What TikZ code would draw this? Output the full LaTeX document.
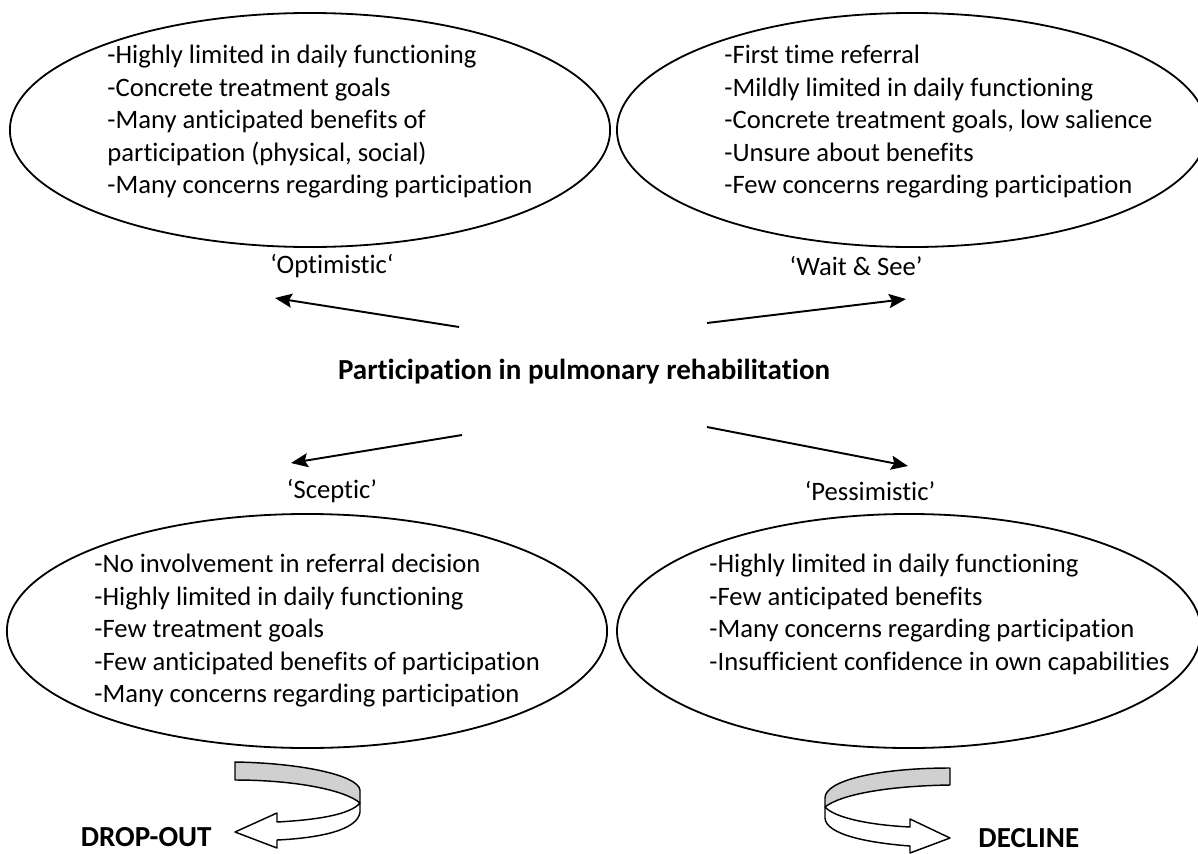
\documentclass[tikz,border=0pt]{standalone}
\usepackage{fontspec}
\setmainfont{Carlito}[Ligatures=CommonOff]
\usetikzlibrary{arrows.meta,positioning,shapes.geometric}
\definecolor{ribbongray}{RGB}{208,208,208}

\begin{document}
\begin{tikzpicture}[
  x=0.4132pt, y=-0.4132pt,
  bubble/.style={ellipse, draw, line width=0.75pt, inner sep=0pt, minimum width=248pt, minimum height=96.7pt},
  points/.style={align=left, inner sep=0pt, anchor=north west, font=\fontsize{11}{13.43}\selectfont},
  profile/.style={inner sep=0pt, font=\fontsize{11}{13.4}\selectfont},
  outcome/.style={inner sep=0pt, font=\bfseries\fontsize{12}{14.6}\selectfont},
  arrow/.style={-{Stealth[length=7pt, width=5.8pt, inset=1.2pt]}, line width=0.8pt},
  ribbon/.style={draw, line width=0.6pt, line join=round}
]
\useasboundingbox (0,0) rectangle (1198,854);

% Profiles
\node[bubble] (optEll) at (310,130) {};
\node[bubble, minimum width=243.8pt] (waitEll) at (912,130) {};
\node[bubble] (scepEll) at (307,631) {};
\node[bubble, minimum width=241.3pt] (pessEll) at (909,631) {};

% Characteristics
\node[points] (optTxt) at (107,45) {-Highly limited in daily functioning\\-Concrete treatment goals\\-Many anticipated benefits of\\participation (physical, social)\\-Many concerns regarding participation};
\node[points] (waitTxt) at (724,45) {-First time referral\\-Mildly limited in daily functioning\\-Concrete treatment goals, low salience\\-Unsure about benefits\\-Few concerns regarding participation};
\node[points] (scepTxt) at (94,554) {-No involvement in referral decision\\-Highly limited in daily functioning\\-Few treatment goals\\-Few anticipated benefits of participation\\-Many concerns regarding participation};
\node[points] (pessTxt) at (709,554) {-Highly limited in daily functioning\\-Few anticipated benefits\\-Many concerns regarding participation\\-Insufficient confidence in own capabilities};

% Labels
\node[profile] (opt) at (332,266) {‘Optimistic‘};
\node[profile] (wait) at (856,266) {‘Wait \& See’};
\node[profile] (scep) at (332,491) {‘Sceptic’};
\node[profile] (pess) at (870,491) {‘Pessimistic’};
\node[outcome] (title) at (584,372) {Participation in pulmonary rehabilitation};

% Arrows
\coordinate (optFrom) at (459,327);
\coordinate (optTo) at (275,298);
\coordinate (waitFrom) at (707,323);
\coordinate (waitTo) at (906,299);
\coordinate (scepFrom) at (462,435);
\coordinate (scepTo) at (291,463);
\coordinate (pessFrom) at (707,427);
\coordinate (pessTo) at (908,466);
\draw[arrow] (optFrom) -- (optTo);
\draw[arrow] (waitFrom) -- (waitTo);
\draw[arrow] (scepFrom) -- (scepTo);
\draw[arrow] (pessFrom) -- (pessTo);

% Outcomes
\node[outcome, anchor=east] (drop) at (212,837) {DROP-OUT};
\node[outcome, anchor=west] (decline) at (978,838) {DECLINE};

\draw[ribbon, fill=white] (360,803) -- (360,812) .. controls (358,830) and (320,838) .. (277,840)
  -- (277,848) -- (235,832) -- (277,813) -- (277,822) .. controls (315,820) and (350,815) .. (360,803) -- cycle;
\draw[ribbon, fill=ribbongray] (235,762) .. controls (300,763) and (358,775) .. (360,790)
  -- (360,803) .. controls (345,790) and (295,780) .. (235,780) -- cycle;

\draw[ribbon, fill=white] (825,807) -- (825,818) .. controls (826,835) and (870,843) .. (910,846)
  -- (910,853) -- (950,838) -- (910,819) -- (910,827) .. controls (870,825) and (835,818) .. (825,807) -- cycle;
\draw[ribbon, fill=ribbongray] (950,768) .. controls (880,768) and (825,780) .. (825,798)
  -- (825,807) .. controls (840,795) and (885,786) .. (950,785) -- cycle;

\end{tikzpicture}
\end{document}
